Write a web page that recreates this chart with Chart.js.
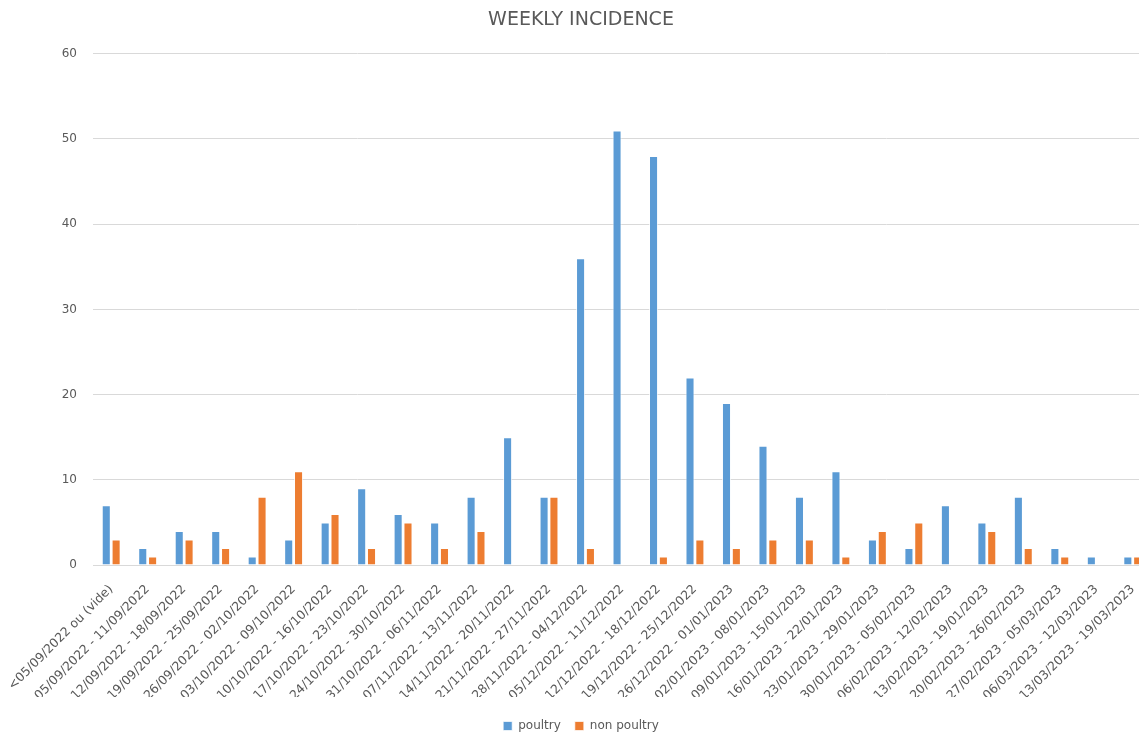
<!DOCTYPE html>
<html>
<head>
<meta charset="utf-8">
<title>Weekly incidence</title>
<script src="https://cdn.jsdelivr.net/npm/chart.js@4.4.1/dist/chart.umd.min.js"></script>
<style>
    html, body { margin: 0; padding: 0; background: #fff; overflow: hidden; }
    #wrap { width: 1162px; height: 733px; }
</style>
</head>
<body>
<div id="wrap"><canvas id="incidenceChart" width="1162" height="733"></canvas></div>
<script>
const weeks = [
    '<05/09/2022 ou (vide)',
    '05/09/2022 - 11/09/2022',
    '12/09/2022 - 18/09/2022',
    '19/09/2022 - 25/09/2022',
    '26/09/2022 - 02/10/2022',
    '03/10/2022 - 09/10/2022',
    '10/10/2022 - 16/10/2022',
    '17/10/2022 - 23/10/2022',
    '24/10/2022 - 30/10/2022',
    '31/10/2022 - 06/11/2022',
    '07/11/2022 - 13/11/2022',
    '14/11/2022 - 20/11/2022',
    '21/11/2022 - 27/11/2022',
    '28/11/2022 - 04/12/2022',
    '05/12/2022 - 11/12/2022',
    '12/12/2022 - 18/12/2022',
    '19/12/2022 - 25/12/2022',
    '26/12/2022 - 01/01/2023',
    '02/01/2023 - 08/01/2023',
    '09/01/2023 - 15/01/2023',
    '16/01/2023 - 22/01/2023',
    '23/01/2023 - 29/01/2023',
    '30/01/2023 - 05/02/2023',
    '06/02/2023 - 12/02/2023',
    '13/02/2023 - 19/01/2023',
    '20/02/2023 - 26/02/2023',
    '27/02/2023 - 05/03/2023',
    '06/03/2023 - 12/03/2023',
    '13/03/2023 - 19/03/2023'
];

const poultry = [7, 2, 4, 4, 1, 3, 5, 9, 6, 5, 8, 15, 8, 36, 51, 48, 22, 19, 14, 8, 11, 3, 2, 7, 5, 8, 2, 1, 1];
const nonPoultry = [3, 1, 3, 2, 8, 11, 6, 2, 5, 2, 4, 0, 8, 2, 0, 1, 3, 2, 3, 3, 1, 4, 5, 0, 4, 2, 1, 0, 1];

const yMax = 60;
const yStep = 10;

const textColor = '#595959';
const fontFamily = '"DejaVu Sans", sans-serif';

const plotBottom = 565;
// chart.js leaves 10px under the legend row, move the row down a bit
const legendShift = 9;

const legendNudge = {
    id: 'legendNudge',
    afterLayout(chart) {
        chart.legend.top += legendShift;
        chart.legend.bottom += legendShift;
    }
};

const ctx = document.getElementById('incidenceChart').getContext('2d');

new Chart(ctx, {
    type: 'bar',
    data: {
        labels: weeks,
        datasets: [
            {
                label: 'poultry',
                data: poultry,
                backgroundColor: '#5B9BD5',
                borderColor: 'rgba(255,255,255,0.7)',
                borderWidth: 1,
                categoryPercentage: 0.54,
                barPercentage: 0.92
            },
            {
                label: 'non poultry',
                data: nonPoultry,
                backgroundColor: '#ED7D31',
                borderColor: 'rgba(255,255,255,0.7)',
                borderWidth: 1,
                categoryPercentage: 0.54,
                barPercentage: 0.92
            }
        ]
    },
    options: {
        responsive: false,
        animation: false,
        layout: {
            padding: { left: 11, right: 11, top: 0, bottom: 0 }
        },
        scales: {
            x: {
                grid: { display: false },
                border: { display: false },
                ticks: {
                    color: textColor,
                    font: { family: fontFamily, size: 12.5 },
                    minRotation: 45,
                    maxRotation: 45,
                    autoSkip: false,
                    padding: 9
                },
                afterFit: scale => {
                    const legendHeight = scale.chart.legend ? scale.chart.legend.height : 36;
                    scale.height = 733 - legendHeight - plotBottom;
                }
            },
            y: {
                min: 0,
                max: yMax,
                ticks: {
                    stepSize: yStep,
                    color: textColor,
                    font: { family: fontFamily, size: 12 },
                    padding: 16
                },
                grid: {
                    color: '#d9d9d9',
                    lineWidth: 1,
                    drawTicks: false
                },
                border: { display: false },
                afterFit: scale => { scale.width = 81; }
            }
        },
        plugins: {
            title: {
                display: true,
                text: 'WEEKLY INCIDENCE',
                color: textColor,
                font: { family: fontFamily, size: 19, weight: 'normal' },
                padding: { top: 9, bottom: 22 }
            },
            legend: {
                position: 'bottom',
                labels: {
                    color: textColor,
                    font: { family: fontFamily, size: 12 },
                    boxWidth: 9,
                    boxHeight: 9,
                    padding: 14
                }
            },
            tooltip: { enabled: false }
        }
    },
    plugins: [legendNudge]
});
</script>
</body>
</html>
